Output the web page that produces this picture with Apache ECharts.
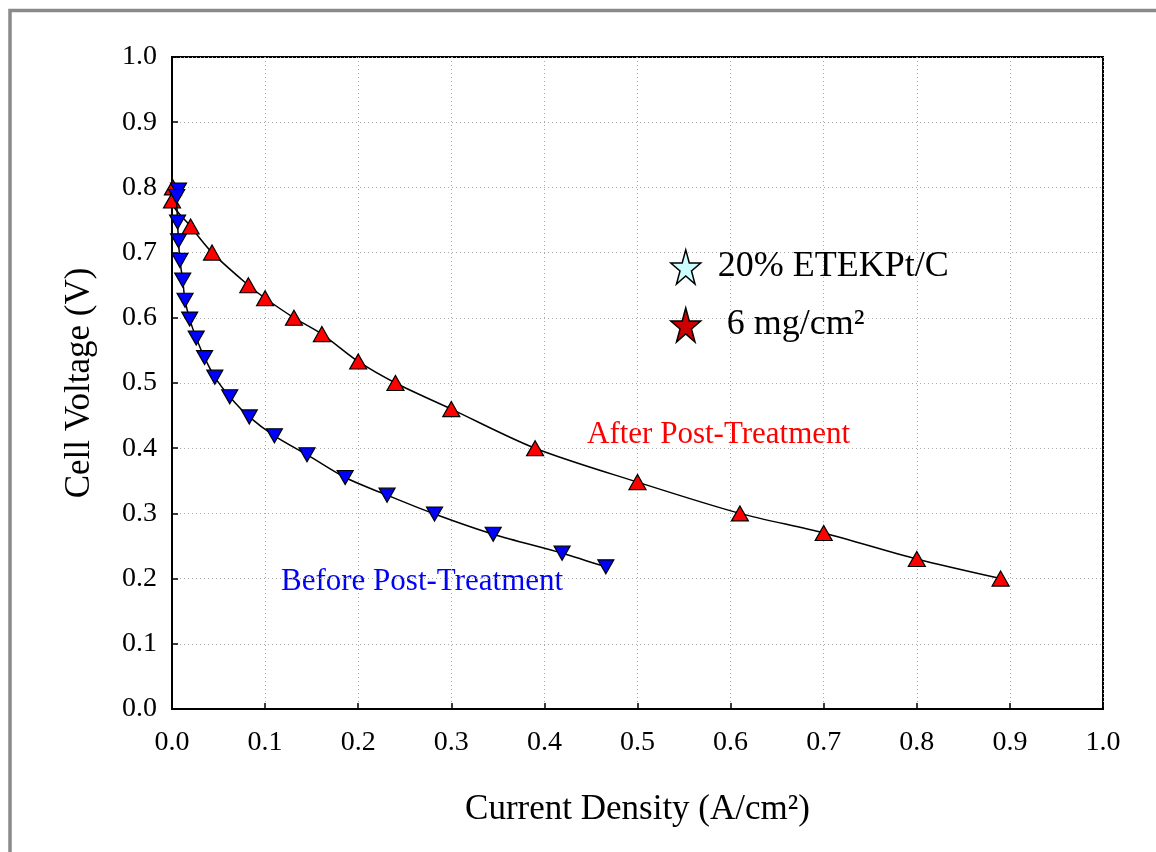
<!DOCTYPE html>
<html>
<head>
<meta charset="utf-8">
<script src="https://cdn.jsdelivr.net/npm/echarts@6/dist/echarts.min.js"></script>
<style>
    html, body { margin: 0; padding: 0; background: #fff; }
    #main { width: 1156px; height: 852px; }
</style>
</head>
<body>
<div id="main"></div>
<script>
// 电流密度 / 电压 数据
var afterX = [0.001, 0, 0.02, 0.043, 0.082, 0.10, 0.131, 0.161, 0.20, 0.24, 0.30, 0.39, 0.50, 0.61, 0.70, 0.80, 0.89];
var afterY = [0.80, 0.78, 0.74, 0.70, 0.65, 0.63, 0.60, 0.575, 0.533, 0.50, 0.46, 0.40, 0.348, 0.30, 0.27, 0.23, 0.20];

var beforeX = [0.007, 0.005, 0.006, 0.007, 0.0085, 0.0115, 0.014, 0.019, 0.026, 0.035, 0.046, 0.062, 0.083, 0.11, 0.145, 0.186, 0.231, 0.282, 0.345, 0.419, 0.466];
var beforeY = [0.796, 0.786, 0.747, 0.718, 0.688, 0.658, 0.627, 0.598, 0.569, 0.539, 0.509, 0.479, 0.448, 0.419, 0.39, 0.355, 0.328, 0.299, 0.268, 0.239, 0.218];

var legendNames = ['20% ETEKPt/C', ' 6 mg/cm²'];
var legendColors = ['#ccffff', '#cc0000'];

var serif = 'Liberation Serif, Times New Roman, serif';
// 略拉长的五角星
var starPath = 'path://M50,0L61.23,41.46L97.55,41.46L68.16,67.08L79.39,108.54L50,82.92L20.61,108.54L31.84,67.08L2.45,41.46L38.77,41.46Z';

function pairs(xs, ys) {
    var out = [];
    for (var i = 0; i < xs.length; i++) {
        out.push([xs[i], ys[i]]);
    }
    return out;
}

var chart = echarts.init(document.getElementById('main'));

var axisCommon = {
    type: 'value',
    min: 0,
    max: 1,
    interval: 0.1,
    axisLine: { show: true, lineStyle: { color: '#000', width: 2 } },
    axisTick: { show: true, inside: true, length: 6, lineStyle: { color: '#000', width: 1.5 } },
    splitLine: { show: true, lineStyle: { color: '#aaa', width: 1, type: [1, 3] } },
    axisLabel: {
        color: '#000',
        fontFamily: serif,
        fontSize: 28,
        formatter: function (v) { return v.toFixed(1); }
    },
    nameLocation: 'middle',
    nameTextStyle: { color: '#000', fontFamily: serif, fontSize: 35 }
};

var option = {
    backgroundColor: '#fff',
    animation: false,
    grid: {
        left: 172,
        right: 53,
        top: 57,
        bottom: 143,
        show: true,
        borderColor: '#000',
        borderWidth: 2
    },
    xAxis: Object.assign({}, axisCommon, {
        name: 'Current Density (A/cm²)',
        nameGap: 83,
        axisLabel: Object.assign({}, axisCommon.axisLabel, { margin: 20 })
    }),
    yAxis: Object.assign({}, axisCommon, {
        name: 'Cell Voltage (V)',
        nameGap: 75,
        axisLabel: Object.assign({}, axisCommon.axisLabel, { margin: 15 })
    }),
    legend: {
        orient: 'vertical',
        left: 665,
        top: 244,
        itemWidth: 30,
        itemHeight: 36,
        itemGap: 22,
        selectedMode: false,
        textStyle: { color: '#000', fontFamily: serif, fontSize: 36, padding: [0, 0, 0, 12] },
        data: [
            { name: legendNames[0], icon: starPath, itemStyle: { color: legendColors[0], opacity: 1, borderColor: '#000', borderWidth: 1.5 } },
            { name: legendNames[1], icon: starPath, itemStyle: { color: legendColors[1], opacity: 1, borderColor: '#000', borderWidth: 1.5 } }
        ]
    },
    graphic: [
        {   // 外框
            type: 'rect',
            shape: { x: 10, y: 10.5, width: 1300, height: 1000 },
            style: { fill: 'none', stroke: '#8a8a8a', lineWidth: 3.5 },
            silent: true
        },
        {
            type: 'text',
            left: 587,
            top: 419,
            style: { text: 'After Post-Treatment', fill: '#ff0000', font: '31px ' + serif }
        },
        {
            type: 'text',
            left: 281,
            top: 566,
            style: { text: 'Before Post-Treatment', fill: '#0000ff', font: '31px ' + serif }
        }
    ],
    series: [
        {
            name: 'After Post-Treatment',
            type: 'line',
            smooth: 0.3,
            data: pairs(afterX, afterY),
            symbol: 'triangle',
            symbolSize: [17, 15],
            lineStyle: { color: '#000', width: 1.5 },
            itemStyle: { color: '#ff0000', borderColor: '#000', borderWidth: 1.2 },
            z: 3
        },
        {
            name: 'Before Post-Treatment',
            type: 'line',
            smooth: 0.3,
            data: pairs(beforeX, beforeY),
            symbol: 'triangle',
            symbolRotate: 180,
            symbolSize: [16, 14],
            lineStyle: { color: '#000', width: 1.5 },
            itemStyle: { color: '#0000ff', borderColor: '#000', borderWidth: 1.2 },
            z: 4
        },
        { name: legendNames[0], type: 'scatter', data: [], symbol: starPath, itemStyle: { color: legendColors[0], opacity: 1 } },
        { name: legendNames[1], type: 'scatter', data: [], symbol: starPath, itemStyle: { color: legendColors[1], opacity: 1 } }
    ]
};

chart.setOption(option);
</script>
</body>
</html>
